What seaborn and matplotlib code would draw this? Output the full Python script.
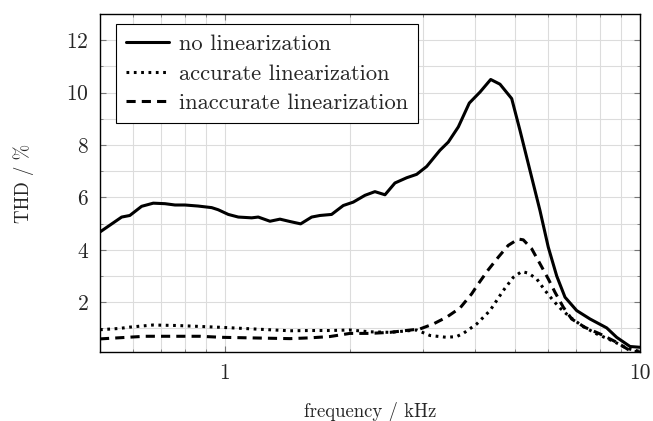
import numpy as np
import pandas as pd
import matplotlib
matplotlib.use('Agg')
import matplotlib.pyplot as plt
import matplotlib.ticker as mticker
import seaborn as sns

# values (frequency in kHz, THD in %)
freq_none = [0.500, 0.564, 0.590, 0.630, 0.672, 0.717, 0.758, 0.801, 0.862, 0.929,
             0.963, 1.019, 1.077, 1.160, 1.203, 1.284, 1.357, 1.434, 1.522, 1.618,
             1.694, 1.807, 1.928, 2.038, 2.175, 2.298, 2.430, 2.568, 2.741, 2.897,
             3.062, 3.297, 3.452, 3.650, 3.879, 4.117, 4.368, 4.599, 4.908, 5.138,
             5.431, 5.741, 6.012, 6.300, 6.597, 7.039, 7.579, 8.313, 8.786, 9.461, 10.0]
thd_none = [4.68, 5.25, 5.31, 5.66, 5.78, 5.76, 5.71, 5.71, 5.67, 5.61,
            5.53, 5.35, 5.25, 5.22, 5.25, 5.09, 5.17, 5.08, 4.99, 5.25,
            5.31, 5.35, 5.69, 5.82, 6.08, 6.22, 6.10, 6.55, 6.75, 6.88,
            7.18, 7.80, 8.11, 8.69, 9.60, 10.02, 10.50, 10.32, 9.77, 8.56,
            7.03, 5.50, 4.10, 3.00, 2.19, 1.68, 1.36, 1.02, 0.66, 0.31, 0.28]

freq_acc = [0.500, 0.558, 0.590, 0.671, 0.770, 0.983, 1.434, 1.603, 1.791, 2.001,
            2.236, 2.498, 2.897, 3.119, 3.422, 3.617, 3.752, 4.042, 4.351, 4.686,
            4.952, 5.187, 5.381, 5.638, 5.903, 6.181, 6.415, 6.782, 7.300, 7.864,
            8.626, 9.290, 10.0]
thd_acc = [0.95, 1.00, 1.05, 1.13, 1.11, 1.04, 0.91, 0.92, 0.92, 0.94,
           0.87, 0.85, 0.94, 0.73, 0.66, 0.69, 0.81, 1.17, 1.68, 2.45,
           2.95, 3.17, 3.11, 2.89, 2.45, 2.06, 1.78, 1.43, 1.07, 0.79,
           0.51, 0.24, 0.12]

freq_inacc = [0.500, 0.642, 0.871, 0.983, 1.434, 1.603, 1.791, 2.001, 2.236, 2.498,
              2.951, 3.177, 3.422, 3.685, 3.931, 4.077, 4.311, 4.557, 4.816, 5.090,
              5.234, 5.483, 5.741, 6.012, 6.240, 6.535, 6.845, 7.369, 8.009, 8.786,
              9.461, 10.0]
thd_inacc = [0.60, 0.70, 0.70, 0.66, 0.61, 0.64, 0.69, 0.81, 0.81, 0.85,
             0.98, 1.17, 1.43, 1.78, 2.32, 2.70, 3.24, 3.72, 4.17, 4.41,
             4.38, 4.04, 3.47, 2.89, 2.38, 1.81, 1.36, 1.04, 0.79, 0.47,
             0.15, 0.10]

labels = ['no linearization', 'accurate linearization', 'inaccurate linearization']

sns.set_style('ticks')
plt.rcParams['font.family'] = ['cmr10', 'DejaVu Serif']
plt.rcParams['axes.formatter.use_mathtext'] = True

fig = plt.figure(figsize=(6.53, 4.21), dpi=100)
ax = fig.add_axes([0.1531, 0.1639, 0.8270, 0.8029])

lw = 2.2
sns.lineplot(x=freq_none, y=thd_none, ax=ax, color='black', lw=lw, label=labels[0])
l2 = sns.lineplot(x=freq_acc, y=thd_acc, ax=ax, color='black', lw=lw, label=labels[1]).lines[-1]
l2.set_dashes((0.9, 1.5))
l3 = sns.lineplot(x=freq_inacc, y=thd_inacc, ax=ax, color='black', lw=lw, label=labels[2]).lines[-1]
l3.set_dashes((3, 2))

ax.set_xscale('log')
ax.set_xlim(0.5, 10)
ax.set_ylim(0.1, 13)

ax.xaxis.set_major_locator(mticker.FixedLocator([1, 10]))
ax.xaxis.set_major_formatter(mticker.FixedFormatter(['1', '10']))
ax.xaxis.set_minor_locator(mticker.LogLocator(base=10, subs=np.arange(2, 10)))
ax.xaxis.set_minor_formatter(mticker.NullFormatter())
ax.yaxis.set_major_locator(mticker.FixedLocator([2, 4, 6, 8, 10, 12]))
ax.yaxis.set_minor_locator(mticker.FixedLocator([1, 3, 5, 7, 9, 11]))

ax.grid(True, which='both', color='#dcdcdc', lw=0.8)
ax.set_axisbelow(True)
ax.tick_params(which='both', direction='in', top=True, right=True, color='#777777')
ax.tick_params(which='major', length=4, width=0.8, labelsize=15.5, pad=8)
ax.tick_params(which='minor', length=2.5, width=0.6)
for s in ax.spines.values():
    s.set_linewidth(1.0)
    s.set_color('black')

ax.set_xlabel('frequency / kHz', fontsize=13.5, labelpad=14)
ax.set_ylabel('THD / %', fontsize=13.5, labelpad=23)

leg = ax.legend(loc='upper left', bbox_to_anchor=(0.03, 0.97), borderaxespad=0,
                fontsize=16.2, handlelength=1.9, handletextpad=0.45,
                borderpad=0.45, labelspacing=0.44, fancybox=False, framealpha=1,
                edgecolor='black')
leg.get_frame().set_linewidth(0.8)

fig.savefig('out.png', dpi=100)
